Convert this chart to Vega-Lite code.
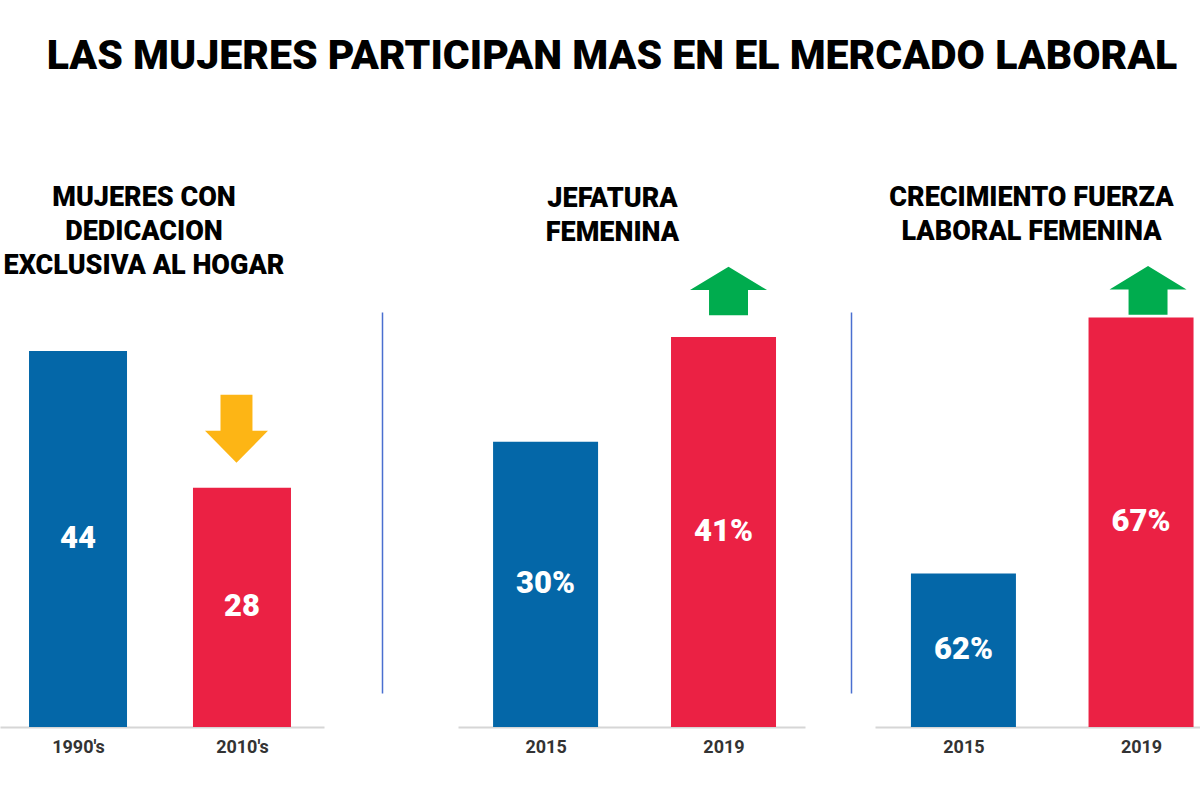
{
  "$schema": "https://vega.github.io/schema/vega-lite/v6.json",
  "background": "white",
  "padding": {"left": 0, "top": 36, "right": 0, "bottom": 0},
  "config": {"view": {"stroke": null}, "font": "Roboto"},
  "title": {"text": "LAS MUJERES PARTICIPAN MAS EN EL MERCADO LABORAL", "font": "Roboto", "fontSize": 41, "fontWeight": 900, "color": "#000000", "anchor": "middle", "dx": 12, "offset": 106},
  "bounds": "flush",
  "spacing": 134,
  "hconcat": [
    {
      "width": 324,
      "height": 415,
      "title": {"text": ["MUJERES CON", "DEDICACION", "EXCLUSIVA AL HOGAR"], "font": "Roboto", "fontSize": 27, "fontWeight": 900, "color": "#000000", "lineHeight": 34, "anchor": "middle", "frame": "group", "dx": -18, "offset": 32},
      "data": {"values": [
        {"periodo": "1990's", "valor": 44, "serie": "antes", "etiqueta": "44"},
        {"periodo": "2010's", "valor": 28, "serie": "despues", "etiqueta": "28"}
      ]},
      "encoding": {
        "x": {"field": "periodo", "type": "nominal", "sort": null, "scale": {"type": "point", "padding": 0.488, "align": 0.4875},
          "axis": {"title": null, "labelAngle": 0, "ticks": false, "domainColor": "#d6d6d6", "domainWidth": 2, "labelFont": "Roboto", "labelFontSize": 18, "labelFontWeight": "bold", "labelColor": "#333333", "labelPadding": 11}}
      },
      "layer": [
        {
          "mark": {"type": "bar", "width": 98},
          "encoding": {
            "y": {"field": "valor", "type": "quantitative", "scale": {"domain": [0, 48.56], "nice": false},
              "axis": {"orient": "right", "offset": 58, "title": null, "labels": false, "ticks": false, "grid": false, "domainColor": "#4A6FD0", "domainWidth": 1.5, "domainDash": [381, 34], "domainDashOffset": 381}},
            "color": {"field": "serie", "type": "nominal", "scale": {"domain": ["antes", "despues"], "range": ["#0467A8", "#EB2144"]}, "legend": null}
          }
        },
        {
          "mark": {"type": "text", "color": "white", "font": "Roboto", "fontSize": 31, "fontWeight": 900, "baseline": "middle", "align": "center"},
          "encoding": {
            "y": {"field": "valor", "type": "quantitative", "scale": {"domain": [0, 97.12], "nice": false}, "axis": null},
            "text": {"field": "etiqueta"}
          }
        },
        {
          "transform": [{"filter": "datum.serie == 'despues'"}],
          "mark": {"type": "point", "shape": "M-0.47,-1L0.47,-1L0.47,0.06L0.926,0.06L0,1L-0.926,0.06L-0.47,0.06Z", "size": 4624, "filled": true, "opacity": 1, "color": "#FDB515", "yOffset": -59, "xOffset": -5.5},
          "encoding": {
            "y": {"field": "valor", "type": "quantitative", "scale": {"domain": [0, 48.56], "nice": false}, "axis": null}
          }
        }
      ],
      "resolve": {"scale": {"y": "independent"}}
    },
    {
      "bounds": "flush",
      "spacing": 70,
      "hconcat": [
        {
          "width": 347,
          "height": 415,
          "title": {"text": ["JEFATURA", "FEMENINA"], "font": "Roboto", "fontSize": 27, "fontWeight": 900, "color": "#000000", "lineHeight": 34, "anchor": "middle", "frame": "group", "dx": -19, "offset": 20},
          "data": {"values": [
            {"periodo": "2015", "valor": 30, "serie": "antes", "etiqueta": "30%"},
            {"periodo": "2019", "valor": 41, "serie": "despues", "etiqueta": "41%"}
          ]},
          "encoding": {
            "x": {"field": "periodo", "type": "nominal", "sort": null, "scale": {"type": "point", "padding": 0.475, "align": 0.518},
              "axis": {"title": null, "labelAngle": 0, "ticks": false, "domainColor": "#d6d6d6", "domainWidth": 2, "labelFont": "Roboto", "labelFontSize": 18, "labelFontWeight": "bold", "labelColor": "#333333", "labelPadding": 11}}
          },
          "layer": [
            {
              "mark": {"type": "bar", "width": 105},
              "encoding": {
                "y": {"field": "valor", "type": "quantitative", "scale": {"domain": [0, 43.63], "nice": false},
                  "axis": {"orient": "right", "offset": 46, "title": null, "labels": false, "ticks": false, "grid": false, "domainColor": "#4A6FD0", "domainWidth": 1.5, "domainDash": [381, 34], "domainDashOffset": 381}},
                "color": {"field": "serie", "type": "nominal", "scale": {"domain": ["antes", "despues"], "range": ["#0467A8", "#EB2144"]}, "legend": null}
              }
            },
            {
              "mark": {"type": "text", "color": "white", "font": "Roboto", "fontSize": 31, "fontWeight": 900, "baseline": "middle", "align": "center"},
              "encoding": {
                "y": {"field": "valor", "type": "quantitative", "scale": {"domain": [0, 87.26], "nice": false}, "axis": null},
                "text": {"field": "etiqueta"}
              }
            },
            {
              "transform": [{"filter": "datum.serie == 'despues'"}],
              "mark": {"type": "point", "shape": "M0,-0.63L1,-0.026L0.506,-0.026L0.506,0.63L-0.506,0.63L-0.506,-0.026L-1,-0.026Z", "size": 5929, "filled": true, "opacity": 1, "color": "#00AC4E", "yOffset": -46, "xOffset": 5},
              "encoding": {
                "y": {"field": "valor", "type": "quantitative", "scale": {"domain": [0, 43.63], "nice": false}, "axis": null}
              }
            }
          ],
          "resolve": {"scale": {"y": "independent"}}
        },
        {
          "width": 325,
          "height": 415,
          "title": {"text": ["CRECIMIENTO FUERZA", "LABORAL FEMENINA"], "font": "Roboto", "fontSize": 27, "fontWeight": 900, "color": "#000000", "lineHeight": 34, "anchor": "middle", "frame": "group", "dx": -6, "offset": 20},
          "data": {"values": [
            {"periodo": "2015", "valor": 62, "serie": "antes", "etiqueta": "62%"},
            {"periodo": "2019", "valor": 67, "serie": "despues", "etiqueta": "67%"}
          ]},
          "encoding": {
            "x": {"field": "periodo", "type": "nominal", "sort": null, "scale": {"type": "point", "padding": 0.415, "align": 0.6},
              "axis": {"title": null, "labelAngle": 0, "ticks": false, "domainColor": "#d6d6d6", "domainWidth": 2, "labelFont": "Roboto", "labelFontSize": 18, "labelFontWeight": "bold", "labelColor": "#333333", "labelPadding": 11}}
          },
          "layer": [
            {
              "mark": {"type": "bar", "width": 105},
              "encoding": {
                "y": {"field": "valor", "type": "quantitative", "scale": {"domain": [59, 67.105], "nice": false, "zero": false, "clamp": true}, "axis": null},
                "color": {"field": "serie", "type": "nominal", "scale": {"domain": ["antes", "despues"], "range": ["#0467A8", "#EB2144"]}, "legend": null}
              }
            },
            {
              "mark": {"type": "text", "color": "white", "font": "Roboto", "fontSize": 31, "fontWeight": 900, "baseline": "middle", "align": "center"},
              "encoding": {
                "y": {"field": "valor", "type": "quantitative", "scale": {"domain": [59, 75.21], "nice": false, "zero": false}, "axis": null},
                "text": {"field": "etiqueta"}
              }
            },
            {
              "transform": [{"filter": "datum.serie == 'despues'"}],
              "mark": {"type": "point", "shape": "M0,-0.63L1,-0.026L0.506,-0.026L0.506,0.63L-0.506,0.63L-0.506,-0.026L-1,-0.026Z", "size": 5929, "filled": true, "opacity": 1, "color": "#00AC4E", "yOffset": -27, "xOffset": 7},
              "encoding": {
                "y": {"field": "valor", "type": "quantitative", "scale": {"domain": [59, 67.105], "nice": false, "zero": false}, "axis": null}
              }
            }
          ],
          "resolve": {"scale": {"y": "independent"}}
        }
      ]
    }
  ]
}
